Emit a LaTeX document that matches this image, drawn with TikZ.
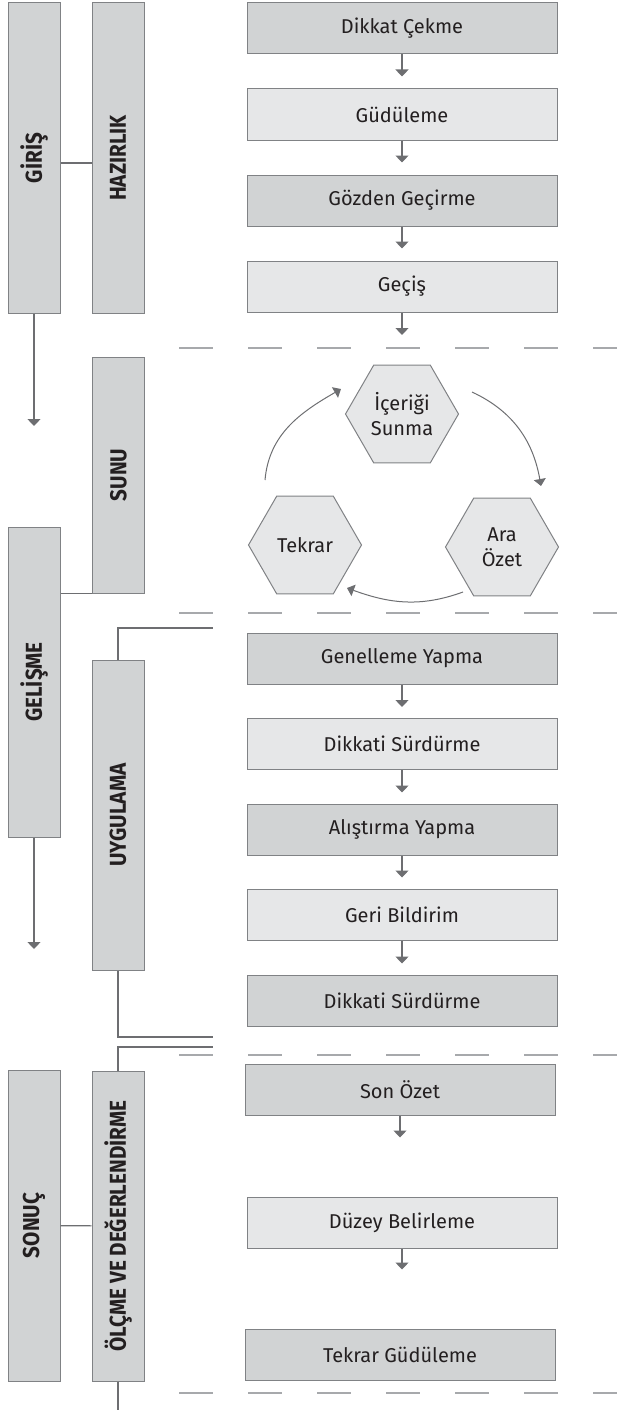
\documentclass[tikz,border=0pt]{standalone}
\usepackage{fontspec}
\setmainfont{Fira Sans}
\newfontfamily\sidefont[FakeStretch=0.9]{Fira Sans}
\usetikzlibrary{arrows.meta,shapes.geometric}

\definecolor{boxdark}{HTML}{D1D3D4}
\definecolor{boxlight}{HTML}{E6E7E8}
\definecolor{edgegray}{HTML}{808285}
\definecolor{arrowgray}{HTML}{6D6E71}
\definecolor{dashgray}{HTML}{A7A9AC}
\definecolor{inkdark}{HTML}{231F20}

\begin{document}
\begin{tikzpicture}[x=1pt,y=1pt,
    box/.style={draw=edgegray, line width=1pt, minimum width=310pt, minimum height=51pt,
        inner sep=0pt, text=inkdark, font=\fontsize{20}{24}\selectfont},
    darkbox/.style={box, fill=boxdark},
    lightbox/.style={box, fill=boxlight},
    sidebox/.style={draw=edgegray, line width=1pt, fill=boxdark, minimum width=52pt,
        minimum height=#1, inner sep=0pt, text=inkdark,
        font=\sidefont\bfseries\fontsize{23}{26}\selectfont},
    hexa/.style={regular polygon, regular polygon sides=6, minimum size=113pt, inner sep=0pt,
        draw=edgegray, line width=1pt, fill=boxlight, align=center, text=inkdark,
        font=\fontsize{20}{25}\selectfont},
    flow/.style={draw=arrowgray, line width=1.2pt, -{Triangle[length=7pt,width=13pt]}},
    loopflow/.style={draw=arrowgray, line width=1pt, -{Triangle[length=7pt,width=12pt]}},
    link/.style={draw=arrowgray, line width=1.2pt},
    sepline/.style={draw=dashgray, line width=1.2pt, dash pattern=on 34pt off 35pt}
]
\useasboundingbox (0,0) rectangle (617,-1410);

% section separators
\foreach \y in {348,613,1055,1393}
    \draw[sepline] (179,-\y) -- (617,-\y);

% left columns
\node[sidebox=310pt] (giris) at (34,-158) {\rotatebox{90}{GİRİŞ}};
\node[sidebox=310pt] (hazirlik) at (118,-158) {\rotatebox{90}{HAZIRLIK}};
\node[sidebox=236pt] (sunu) at (118.5,-475) {\rotatebox{90}{SUNU}};
\node[sidebox=310pt] (gelisme) at (34,-682) {\rotatebox{90}{GELİŞME}};
\node[sidebox=310pt] (uygulama) at (118,-815) {\rotatebox{90}{UYGULAMA}};
\node[sidebox=311pt] (sonuc) at (34,-1225.5) {\rotatebox{90}{SONUÇ}};
\node[sidebox=310pt] (olcme) at (118,-1226) {\rotatebox{90}{ÖLÇME VE DEĞERLENDİRME}};

\coordinate (girisend) at (34,-426);
\coordinate (gelismeend) at (34,-949);
\coordinate (uygtop) at (213,-628);
\coordinate (uygbot) at (213,-1037);
\coordinate (olctop) at (213,-1047);
\coordinate (olcend) at (118,-1410);

\draw[link] ([yshift=-5pt]giris.east) -- ([yshift=-5pt]hazirlik.west);
\draw[link] (sunu.south west) -- (sunu.south west -| gelisme.east);
\draw[link] (sonuc) -- (olcme);
\draw[link] (uygulama.north) |- (uygtop);
\draw[link] (uygulama.south) |- (uygbot);
\draw[link] (olcme.north) |- (olctop);
\draw[link] (olcme.south) -- (olcend);
\draw[flow] (giris.south) -- (girisend);
\draw[flow] (gelisme.south) -- (gelismeend);

% hazirlik steps
\node[darkbox] (dikkat) at (402,-28.5) {Dikkat Çekme};
\node[lightbox] (gudu) at (402,-114.5) {Güdüleme};
\node[darkbox] (gozden) at (402,-200.5) {Gözden Geçirme};
\node[lightbox] (gecis) at (402,-286.5) {Geçiş};
\coordinate (gecisend) at (402,-335);

\draw[flow, shorten >=12pt] (dikkat.south) -- (gudu.north);
\draw[flow, shorten >=12pt] (gudu.south) -- (gozden.north);
\draw[flow, shorten >=12pt] (gozden.south) -- (gecis.north);
\draw[flow] (gecis.south) -- (gecisend);

% sunu cycle
\node[hexa] (icerik) at (402,-414) {İçeriği\\Sunma};
\node[hexa] (tekrar) at (305,-545) {Tekrar};
\node[hexa] (ara) at (502,-547) {Ara\\Özet};

\draw[loopflow] ([shift={(-40pt,65pt)}]tekrar.center) to[out=85,in=210] ([shift={(-61pt,25pt)}]icerik.center);
\draw[loopflow] ([shift={(70pt,22pt)}]icerik.center) to[out=-25,in=100] ([shift={(39pt,61pt)}]ara.center);
\draw[loopflow] ([shift={(-39pt,-45pt)}]ara.center) to[out=200,in=-20] ([shift={(42pt,-43pt)}]tekrar.center);

% uygulama steps
\node[darkbox] (genel) at (402,-658.5) {Genelleme Yapma};
\node[lightbox] (surdur) at (402,-744) {Dikkati Sürdürme};
\node[darkbox] (alistir) at (402,-829.5) {Alıştırma Yapma};
\node[lightbox] (geri) at (402,-914.5) {Geri Bildirim};
\node[darkbox] (surdurb) at (402,-1000.5) {Dikkati Sürdürme};

\draw[flow, shorten >=11pt] (genel.south) -- (surdur.north);
\draw[flow, shorten >=11pt] (surdur.south) -- (alistir.north);
\draw[flow, shorten >=11pt] (alistir.south) -- (geri.north);
\draw[flow, shorten >=11pt] (geri.south) -- (surdurb.north);

% olcme steps
\node[darkbox] (sonozet) at (400,-1089.5) {Son Özet};
\node[lightbox] (duzey) at (402,-1222.5) {Düzey Belirleme};
\node[darkbox] (tekrargud) at (400,-1354.5) {Tekrar Güdüleme};

\draw[flow, shorten >=59pt] (sonozet.south) -- (sonozet.south |- duzey.north);
\draw[flow, shorten >=59pt] (duzey.south) -- (duzey.south |- tekrargud.north);
\end{tikzpicture}
\end{document}
